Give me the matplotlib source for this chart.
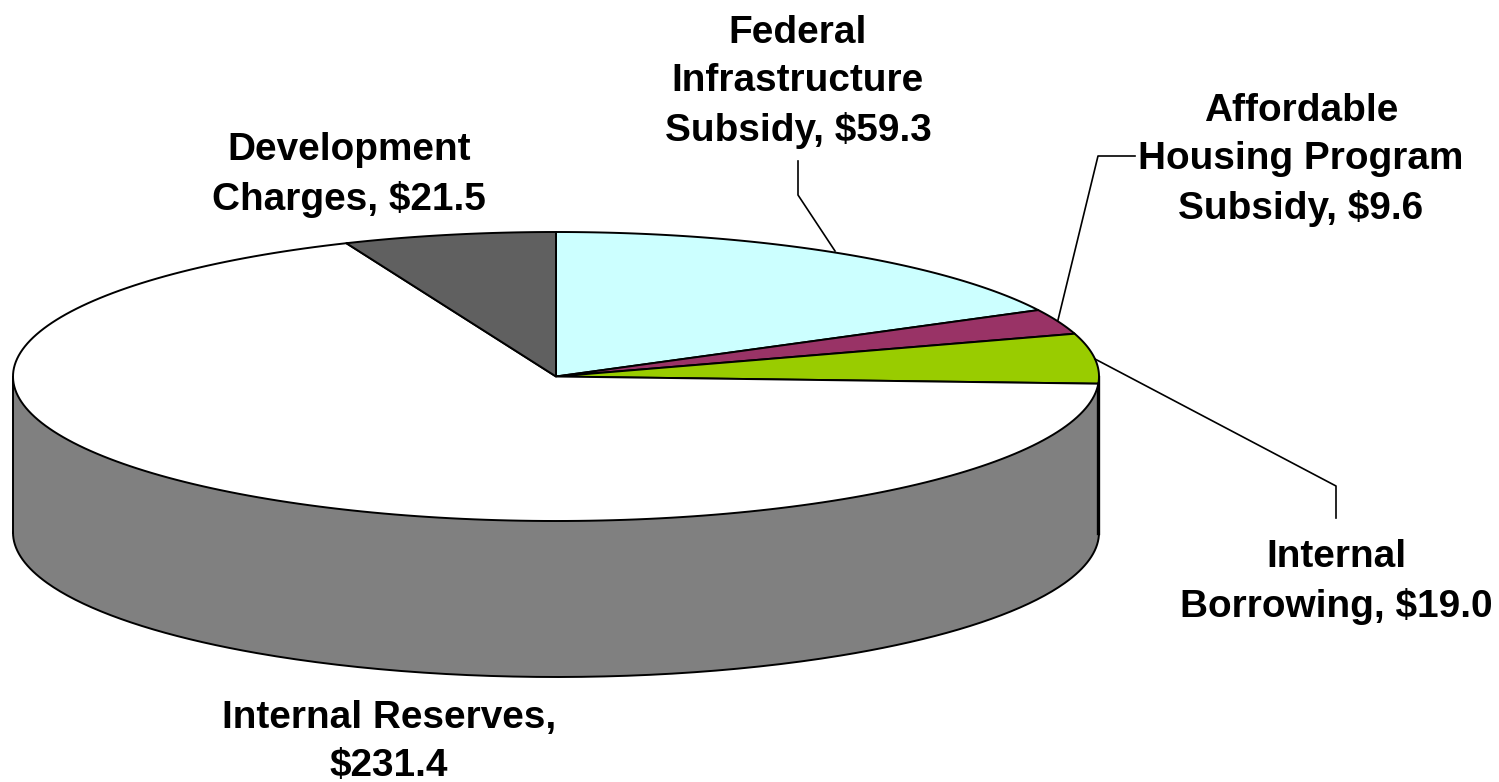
import matplotlib
matplotlib.use("Agg")
import matplotlib.pyplot as plt
import numpy as np

# clockwise from 12 o'clock
labels = ["Federal\nInfrastructure\nSubsidy, $59.3",
          "Affordable\nHousing Program\nSubsidy, $9.6",
          "Internal\nBorrowing, $19.0",
          "Internal Reserves,\n$231.4",
          "Development\nCharges, $21.5"]
values = [59.3, 9.6, 19.0, 231.4, 21.5]
colors = ["#CCFFFF", "#993366", "#99CC00", "#FFFFFF", "#606060"]
side_color = "#808080"

cx, cy = 556, 376.5
rx, ry = 543, 144.5
depth = 156

label_x = [798, 1301, 1336, 389, 349]
label_y = [82, 160, 582, 742, 175]

leaders = [([798, 798, 835], [161, 195, 251]),
           ([1135, 1098, 1058], [156, 156, 320]),
           ([1095, 1336, 1336], [359, 486, 518])]

plt.rcParams['font.family'] = ['Liberation Sans', 'DejaVu Sans']

def ell(t, dy=0):
    return cx + rx*np.sin(t), cy + dy - ry*np.cos(t)

fig = plt.figure(figsize=(14.99, 7.82), dpi=100)
ax = fig.add_axes([0, 0, 1, 1])
ax.set_xlim(0, 1499)
ax.set_ylim(782, 0)
ax.axis('off')

# side wall, only the front half shows
t = np.linspace(np.pi/2, 3*np.pi/2, 300)
xt, yt = ell(t)
xb, yb = ell(t, depth)
ax.fill(np.r_[xt, xb[::-1]], np.r_[yt, yb[::-1]], facecolor=side_color,
        edgecolor='none', zorder=1)
ax.plot(xb, yb, color='k', lw=1.4, zorder=2)
ax.plot([xt[-1], xb[-1]], [yt[-1], yb[-1]], color='k', lw=1.4, zorder=2)
ax.plot([xt[0]-0.5, xb[0]-0.5], [yt[0], yb[0]], color='k', lw=2.4, zorder=2)

# top face
angles = np.r_[0, np.cumsum(values)] / np.sum(values) * 2*np.pi
for i in range(len(values)):
    t = np.linspace(angles[i], angles[i+1], 200)
    x, y = ell(t)
    ax.fill(np.r_[cx, x], np.r_[cy, y], facecolor=colors[i], edgecolor='k',
            lw=1.4, joinstyle='round', zorder=3)

for xs, ys in leaders:
    ax.plot(xs, ys, color='k', lw=1.2, zorder=4)

for i in range(len(labels)):
    ax.text(label_x[i], label_y[i], labels[i], ha='center', va='center',
            fontsize=27.9, fontweight='bold', linespacing=1.43, color='k', zorder=5)

fig.savefig("out.png", dpi=100)
